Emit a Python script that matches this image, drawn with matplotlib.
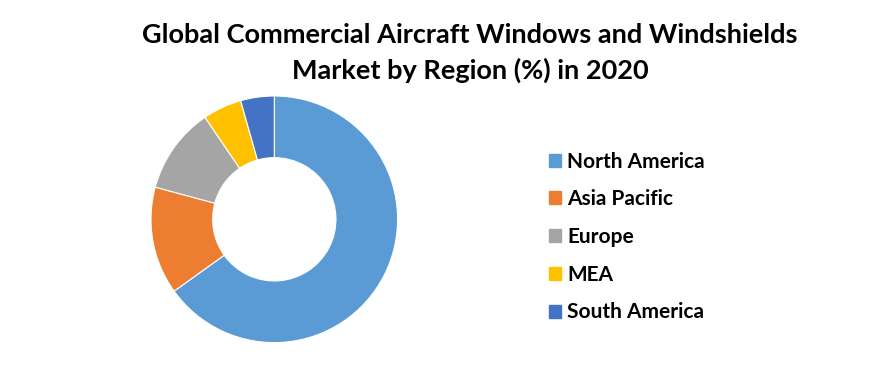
import matplotlib
matplotlib.use('Agg')
import matplotlib.pyplot as plt
import matplotlib.patches as mpatches

regions = ['North America', 'Asia Pacific', 'Europe', 'MEA', 'South America']
shares = [65.1, 14.1, 11.3, 5.1, 4.4]
colors = ['#5B9BD5', '#ED7D31', '#A5A5A5', '#FFC000', '#4472C4']

plt.rcParams['font.family'] = ['Lato', 'DejaVu Sans']

fig = plt.figure(figsize=(8.88, 3.83), dpi=100)
W, H = 888, 383

# donut centre ~ (274, 219) px, outer radius ~123 px
cx, cy, r = 274.3, 219.3, 123.3
ax = fig.add_axes([(cx - r) / W, (H - cy - r) / H, 2 * r / W, 2 * r / H])
ax.pie(shares, colors=colors, startangle=90, counterclock=False, radius=1,
       wedgeprops=dict(width=0.5, edgecolor='white', linewidth=0.8))
ax.set_xlim(-1, 1)
ax.set_ylim(-1, 1)
ax.set_aspect('equal')
ax.axis('off')

fig.text(470 / W, 1 - 35 / H, 'Global Commercial Aircraft Windows and Windshields',
         ha='center', va='center', fontsize=19.5, fontweight='bold')
fig.text(470 / W, 1 - 70 / H, 'Market by Region (%) in 2020',
         ha='center', va='center', fontsize=19.5, fontweight='bold')

handles = [mpatches.Patch(color=c, label=l) for c, l in zip(colors, regions)]
fig.legend(handles=handles, loc='center left', bbox_to_anchor=(530 / W, 1 - 237 / H),
           frameon=False, prop=dict(size=15, weight='bold'),
           handlelength=0.58, handleheight=0.58, handletextpad=0.3, labelspacing=0.85)

fig.savefig('out.png', dpi=100)
